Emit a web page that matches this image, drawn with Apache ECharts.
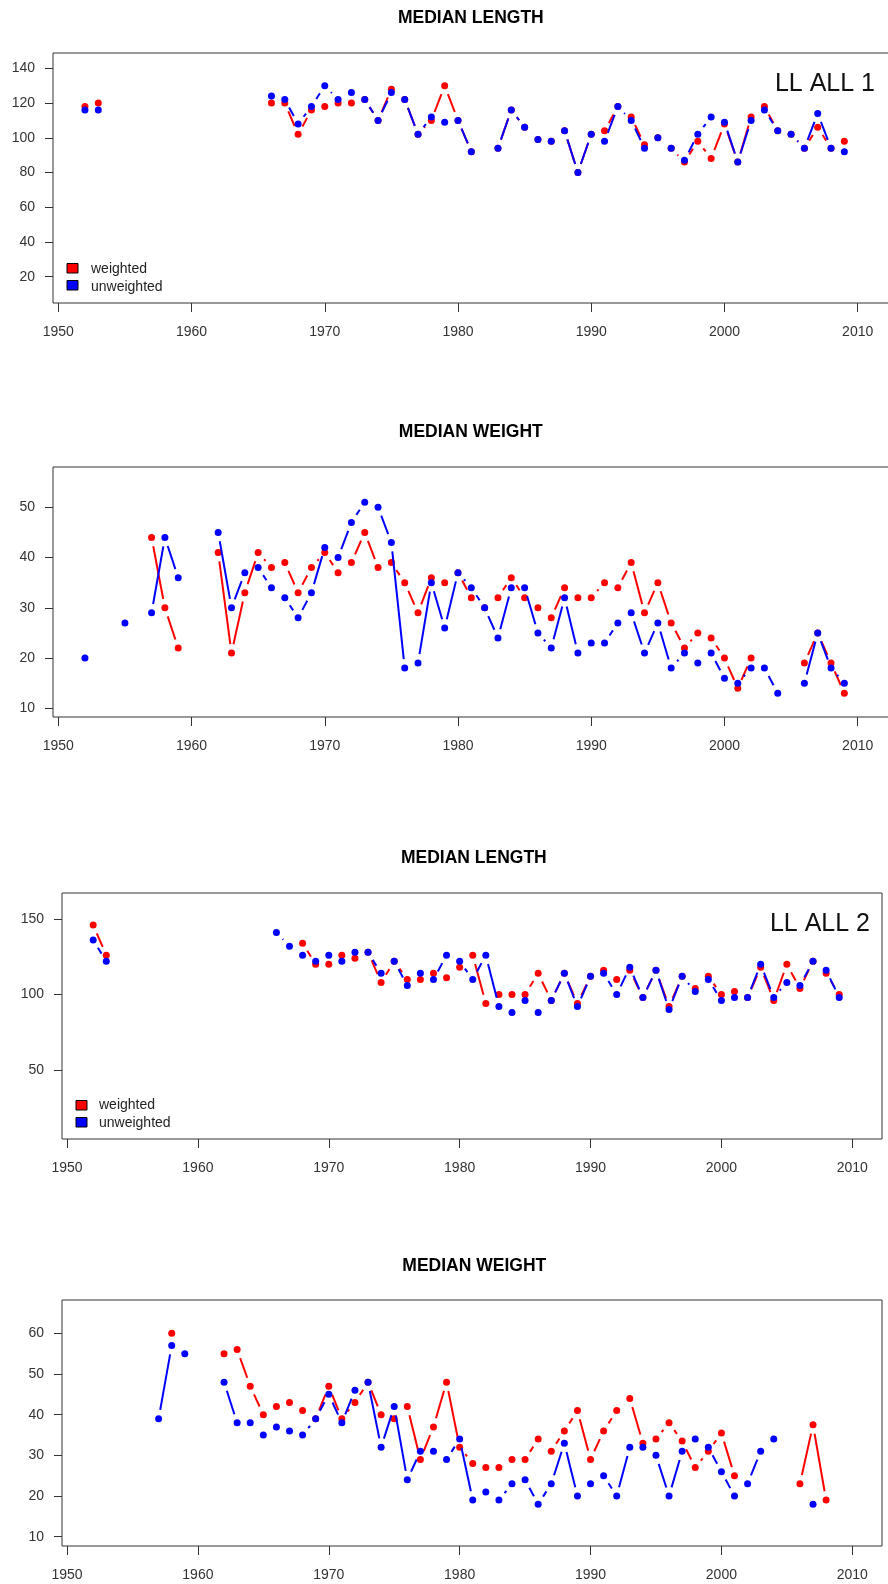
<!DOCTYPE html>
<html><head><meta charset="utf-8">
<script src="https://cdn.jsdelivr.net/npm/echarts@6/dist/echarts.min.js"></script>
<style>html,body{margin:0;padding:0;background:#fff}#c{width:888px;height:1584px}</style>
</head><body><div id="c"></div>
<script>
// ---------- DATA ----------
const years = [1952,1953,1954,1955,1956,1957,1958,1959,
  1960,1961,1962,1963,1964,1965,1966,1967,1968,1969,
  1970,1971,1972,1973,1974,1975,1976,1977,1978,1979,
  1980,1981,1982,1983,1984,1985,1986,1987,1988,1989,
  1990,1991,1992,1993,1994,1995,1996,1997,1998,1999,
  2000,2001,2002,2003,2004,2005,2006,2007,2008,2009];

const xTickLabels = [1950,1960,1970,1980,1990,2000,2010];

// Panel 1: MEDIAN LENGTH, LL ALL 1
const len1Weighted = [118,120,null,null,null,null,null,null,
  null,null,null,null,null,null,120,120,102,116,
  118,120,120,122,110,128,122,102,110,130,
  110,92,null,94,116,106,99,98,104,80,
  102,104,118,112,96,100,94,86,98,88,
  108,86,112,118,104,102,94,106,94,98];
const len1Unweighted = [116,116,null,null,null,null,null,null,
  null,null,null,null,null,null,124,122,108,118,
  130,122,126,122,110,126,122,102,112,109,
  110,92,null,94,116,106,99,98,104,80,
  102,98,118,110,94,100,94,87,102,112,
  109,86,110,116,104,102,94,114,94,92];
const len1Ticks = [20,40,60,80,100,120,140];

// Panel 2: MEDIAN WEIGHT (LL ALL 1)
const wt1Weighted = [null,null,null,null,null,44,30,22,
  null,null,41,21,33,41,38,39,33,38,
  41,37,39,45,38,39,35,29,36,35,
  37,32,30,32,36,32,30,28,34,32,
  32,35,34,39,29,35,27,22,25,24,
  20,14,20,null,null,null,19,25,19,13];
const wt1Unweighted = [20,null,null,27,null,29,44,36,
  null,null,45,30,37,38,34,32,28,33,
  42,40,47,51,50,43,18,19,35,26,
  37,34,30,24,34,34,25,22,32,21,
  23,23,27,29,21,27,18,21,19,21,
  16,15,18,18,13,null,15,25,18,15];
const wt1Ticks = [10,20,30,40,50];

// Panel 3: MEDIAN LENGTH, LL ALL 2
const len2Weighted = [146,126,null,null,null,null,null,null,
  null,null,null,null,null,null,null,null,134,120,
  120,126,124,128,108,122,110,110,114,111,
  118,126,94,100,100,100,114,96,114,94,
  112,116,110,116,98,116,92,112,104,112,
  100,102,98,118,96,120,104,122,114,100];
const len2Unweighted = [136,122,null,null,null,null,null,null,
  null,null,null,null,null,null,141,132,126,122,
  126,122,128,128,114,122,106,114,110,126,
  122,110,126,92,88,96,88,96,114,92,
  112,114,100,118,98,116,90,112,102,110,
  96,98,98,120,98,108,106,122,116,98];
const len2Ticks = [50,100,150];

// Panel 4: MEDIAN WEIGHT (LL ALL 2)
const wt2Weighted = [null,null,null,null,null,null,60,null,
  null,null,55,56,47,40,42,43,41,39,
  47,39,43,48,40,39,42,29,37,48,
  32,28,27,27,29,29,34,31,36,41,
  29,36,41,44,33,34,38,33.5,27,31,
  35.5,25,null,null,null,null,23,37.5,19,null];
const wt2Unweighted = [null,null,null,null,null,39,57,55,
  null,null,48,38,38,35,37,36,35,39,
  45,38,46,48,32,42,24,31,31,29,
  34,19,21,19,23,24,18,23,33,20,
  23,25,20,32,32,30,20,31,34,32,
  26,20,23,31,34,null,null,18,null,null];
const wt2Ticks = [10,20,30,40,50,60];

const titles = ['MEDIAN LENGTH','MEDIAN WEIGHT','MEDIAN LENGTH','MEDIAN WEIGHT'];
const legendNames = ['weighted','unweighted'];
const panelLabels = ['LL ALL 1','LL ALL 2'];

// ---------- LAYOUT ----------
const FONT = '"Liberation Sans", Arial, Helvetica, sans-serif';
const RED = '#FF0000', BLUE = '#0000FF', AX = '#333';
const GAP = 9;

const panels = [
  {w: len1Weighted, u: len1Unweighted, ticks: len1Ticks,
   left: 53, top: 53, width: 840, height: 250, xmin: 1949.602, xmax: 2012.651, ymin: 4.86, ymax: 148.81},
  {w: wt1Weighted, u: wt1Unweighted, ticks: wt1Ticks,
   left: 53, top: 467, width: 840, height: 250, xmin: 1949.602, xmax: 2012.651, ymin: 8.27, ymax: 58.02},
  {w: len2Weighted, u: len2Unweighted, ticks: len2Ticks,
   left: 62, top: 893, width: 820, height: 246, xmin: 1949.618, xmax: 2012.27, ymin: 4.30, ymax: 167.2},
  {w: wt2Weighted, u: wt2Unweighted, ticks: wt2Ticks,
   left: 62, top: 1300, width: 820, height: 246, xmin: 1949.618, xmax: 2012.27, ymin: 7.72, ymax: 68.19}
];

function segs(vals){
  const out = [];
  for (let i = 0; i < years.length - 1; i++) {
    if (vals[i] != null && vals[i+1] != null && years[i+1] - years[i] === 1)
      out.push([years[i], vals[i], years[i+1], vals[i+1]]);
  }
  return out;
}
function pts(vals){
  return years.map((y, i) => [y, vals[i]]).filter(d => d[1] != null);
}
function makeRender(color){
  return function(params, api){
    const a = api.coord([api.value(0), api.value(1)]);
    const b = api.coord([api.value(2), api.value(3)]);
    const dx = b[0]-a[0], dy = b[1]-a[1], len = Math.hypot(dx, dy);
    if (len <= 2*GAP) return {type: 'group', children: []};
    const ux = dx/len, uy = dy/len;
    return {type: 'line',
      shape: {x1: a[0]+ux*GAP, y1: a[1]+uy*GAP, x2: b[0]-ux*GAP, y2: b[1]-uy*GAP},
      style: {stroke: color, lineWidth: 2}};
  };
}

const grid = [], xAxis = [], yAxis = [], series = [];
panels.forEach((p, i) => {
  grid.push({left: p.left, top: p.top, width: p.width, height: p.height,
    show: true, borderColor: AX, borderWidth: 1, backgroundColor: '#fff',
    containLabel: false, outerBoundsMode: 'none'});
  xAxis.push({gridIndex: i, type: 'value', min: p.xmin, max: p.xmax,
    axisLine: {show: false, onZero: false}, splitLine: {show: false},
    axisTick: {show: true, length: 9, lineStyle: {color: AX, width: 1}, customValues: xTickLabels},
    axisLabel: {customValues: xTickLabels, margin: 29.5, verticalAlign: 'middle',
      formatter: v => String(v), fontSize: 14, color: AX, fontFamily: FONT}});
  yAxis.push({gridIndex: i, type: 'value', min: p.ymin, max: p.ymax,
    axisLine: {show: false, onZero: false}, splitLine: {show: false},
    axisTick: {show: true, length: 8, lineStyle: {color: AX, width: 1}, customValues: p.ticks},
    axisLabel: {customValues: p.ticks, margin: 18, formatter: v => String(v),
      fontSize: 14, color: AX, fontFamily: FONT}});
  const mk = (vals, color, z) => {
    series.push({type: 'custom', xAxisIndex: i, yAxisIndex: i, data: segs(vals),
      dimensions: ['x1','y1','x2','y2'], encode: {x: [0,2], y: [1,3]},
      renderItem: makeRender(color), z: z, silent: true});
    series.push({type: 'scatter', xAxisIndex: i, yAxisIndex: i, data: pts(vals),
      symbol: 'circle', symbolSize: 7, itemStyle: {color: color, opacity: 1}, z: z+1, silent: true});
  };
  mk(p.w, RED, 2);
  mk(p.u, BLUE, 4);
});

const titlePos = [[470.8, 18.3],[470.8, 432.5],[473.8, 858.3],[474.3, 1265.7]];
const graphic = [];
titles.forEach((t, i) => {
  graphic.push({type: 'text', x: titlePos[i][0], y: titlePos[i][1], z: 100,
    style: {text: t, font: 'bold 17.5px ' + FONT, fill: '#000',
      align: 'center', verticalAlign: 'middle', textAlign: 'center', textVerticalAlign: 'middle'}});
});
const legendPos = [
  {sx: 67, sy: [263.5, 280.5], tx: 91, ty: [269, 286.7]},
  {sx: 76, sy: [1100.5, 1117.5], tx: 99, ty: [1105, 1122.7]}
];
legendPos.forEach(L => {
  [RED, BLUE].forEach((c, k) => {
    graphic.push({type: 'rect', z: 100, shape: {x: L.sx, y: L.sy[k], width: 11, height: 9.5},
      style: {fill: c, stroke: '#000', lineWidth: 1}});
    graphic.push({type: 'text', x: L.tx, y: L.ty[k], z: 100,
      style: {text: legendNames[k], font: '14px ' + FONT, fill: '#222',
        align: 'left', verticalAlign: 'middle', textAlign: 'left', textVerticalAlign: 'middle'}});
  });
});
const labelPos = [[875, 84.5],[870, 924]];
panelLabels.forEach((t, i) => {
  graphic.push({type: 'text', x: labelPos[i][0], y: labelPos[i][1], z: 100,
    style: {text: t, font: '25px ' + FONT, fill: '#111',
      align: 'right', verticalAlign: 'middle', textAlign: 'right', textVerticalAlign: 'middle'}});
});

const chart = echarts.init(document.getElementById('c'), null, {renderer: 'canvas'});
chart.setOption({animation: false, backgroundColor: '#fff', grid, xAxis, yAxis, series, graphic});
</script></body></html>
